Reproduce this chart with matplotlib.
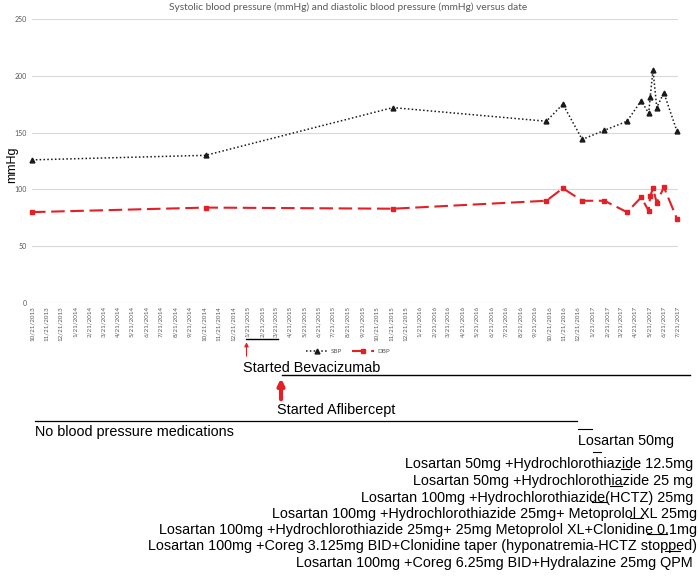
import datetime as dt
import matplotlib
matplotlib.use("Agg")
import matplotlib.pyplot as plt
import matplotlib.dates as mdates
from matplotlib.lines import Line2D
from matplotlib.patches import FancyArrowPatch

W, H = 698, 582

# Visit dates and blood pressure readings
visit_dates = [
    dt.date(2013, 10, 21), dt.date(2014, 10, 24), dt.date(2015, 11, 25),
    dt.date(2016, 10, 15), dt.date(2016, 11, 19), dt.date(2016, 12, 30),
    dt.date(2017, 2, 15), dt.date(2017, 4, 4), dt.date(2017, 5, 4),
    dt.date(2017, 5, 20), dt.date(2017, 5, 23), dt.date(2017, 5, 29),
    dt.date(2017, 6, 6), dt.date(2017, 6, 21), dt.date(2017, 7, 19),
]
sbp = [126, 130, 172, 160, 175, 144, 152, 160, 178, 167, 181, 205, 172, 185, 151]
dbp = [80, 84, 83, 90, 101, 90, 90, 80, 93, 81, 94, 101, 88, 102, 74]

tick_dates = []
y, m = 2013, 10
while (y, m) <= (2017, 7):
    tick_dates.append(dt.date(y, m, 21))
    m += 1
    if m > 12:
        y, m = y + 1, 1
tick_labels = [f"{d.month}/{d.day}/{d.year}" for d in tick_dates]

title = "Systolic blood pressure (mmHg) and diastolic blood pressure (mmHg) versus date"

# Treatment annotations below the chart
event_labels = ["Started Bevacizumab", "Started Aflibercept"]
no_med_label = "No blood pressure medications"
med_labels = [
    "Losartan 50mg",
    "Losartan 50mg +Hydrochlorothiazide 12.5mg",
    "Losartan 50mg +Hydrochlorothiazide 25 mg",
    "Losartan 100mg +Hydrochlorothiazide(HCTZ) 25mg",
    "Losartan 100mg +Hydrochlorothiazide 25mg+ Metoprolol XL 25mg",
    "Losartan 100mg +Hydrochlorothiazide 25mg+ 25mg Metoprolol XL+Clonidine 0.1mg",
    "Losartan 100mg +Coreg 3.125mg BID+Clonidine taper (hyponatremia-HCTZ stopped)",
    "Losartan 100mg +Coreg 6.25mg BID+Hydralazine 25mg QPM",
]

# layout of the annotation block, in pixels
med_right = [None, 693, 693, 693, 697, 697, 697, 693]
med_base = [445, 468, 485, 502, 518, 534, 550, 567]
med_marks = [(578, 592), (593, 601), (621, 630), (610, 622), (592, 607),
             (630, 643), (647, 667), (665, 680)]


def fx(x):
    return x / W


def fy(y):
    return 1 - y / H


def hline(x0, x1, y, lw=1.0, color="black"):
    fig.add_artist(Line2D([fx(x0), fx(x1)], [fy(y), fy(y)], color=color, lw=lw,
                          transform=fig.transFigure))


fig = plt.figure(figsize=(W / 100, H / 100), dpi=100)
ax = fig.add_axes([fx(32), fy(303), (678 - 32) / W, (303 - 19) / H])

ax.plot(visit_dates, sbp, color="#1a1a1a", ls=(0, (1, 1.5)), lw=1.1, marker="^",
        ms=3.5, label="SBP", clip_on=False)
ax.plot(visit_dates, dbp, color="#e41f26", ls=(0, (6.5, 2.7)), lw=1.5, marker="s",
        ms=3.5, label="DBP", clip_on=False)

ax.set_ylim(0, 250)
ax.set_yticks(range(0, 251, 50))
ax.set_xlim(dt.date(2013, 10, 21), dt.date(2017, 7, 21))
ax.set_xticks(mdates.date2num(tick_dates))
ax.set_xticklabels(tick_labels, rotation=90, fontsize=4.5, color="#595959",
                   family="Lato")
for lab in ax.get_yticklabels():
    lab.set_family("Lato")
ax.tick_params(axis="y", length=0, labelsize=5, labelcolor="#595959", pad=4)
ax.tick_params(axis="x", length=0, pad=2)
ax.yaxis.grid(True, color="#d9d9d9", lw=0.8)
ax.set_axisbelow(True)
for s in ax.spines.values():
    s.set_visible(False)

fig.text(fx(348), fy(7), title, ha="center", va="center", fontsize=7.3,
         color="#595959", family="Lato")
fig.text(fx(12), fy(165), "mmHg", rotation=90, ha="center", va="center",
         fontsize=9, family="Liberation Sans")

leg = ax.legend(loc="center", bbox_to_anchor=(fx(348), fy(351)),
                bbox_transform=fig.transFigure, ncol=2, frameon=False,
                fontsize=4.5, handlelength=3.5, columnspacing=1.5,
                handletextpad=0.5)
for t in leg.get_texts():
    t.set_color("#595959")
    t.set_family("Lato")

tf = dict(family="Liberation Sans", fontsize=10.4, color="black", va="baseline")

# Bevacizumab
hline(246, 278, 339)
fig.add_artist(FancyArrowPatch((fx(246.5), fy(359)), (fx(246.5), fy(339.5)),
                               arrowstyle="-|>", mutation_scale=6, lw=0.8,
                               color="#e41f26", transform=fig.transFigure))
fig.text(fx(243), fy(372), event_labels[0], ha="left", **tf)

# Aflibercept
hline(282, 690, 375)
fig.add_artist(FancyArrowPatch((fx(281), fy(402)), (fx(281), fy(375.5)),
                               arrowstyle="-|>", mutation_scale=9, lw=3,
                               color="#e41f26", transform=fig.transFigure))
fig.text(fx(277), fy(414), event_labels[1], ha="left", **tf)

# medications
hline(35, 577, 421, lw=0.9)
fig.text(fx(35), fy(436), no_med_label, ha="left", **tf)
for i, lab in enumerate(med_labels):
    if med_right[i] is None:
        fig.text(fx(578), fy(med_base[i]), lab, ha="left", **tf)
    else:
        fig.text(fx(med_right[i]), fy(med_base[i]), lab, ha="right", **tf)
    x0, x1 = med_marks[i]
    hline(x0, x1, med_base[i] - 16, lw=0.8)

fig.savefig("out.png", dpi=100)
